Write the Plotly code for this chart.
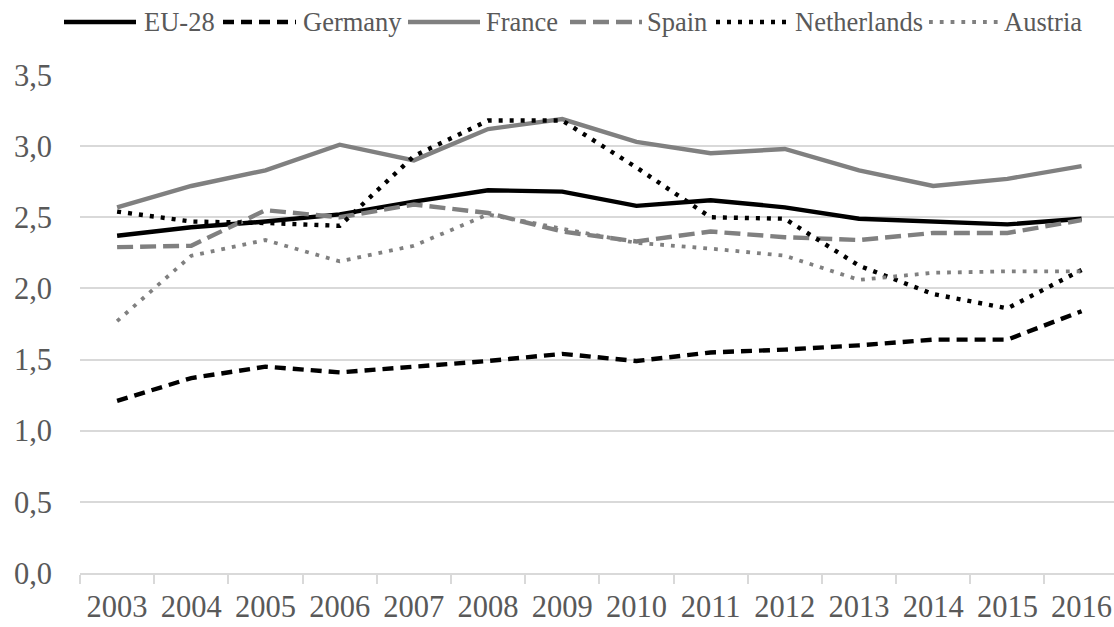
import plotly.graph_objects as go

years = ["2003", "2004", "2005", "2006", "2007", "2008", "2009",
         "2010", "2011", "2012", "2013", "2014", "2015", "2016"]

eu28 = [2.37, 2.43, 2.47, 2.52, 2.61, 2.69, 2.68, 2.58, 2.62, 2.57, 2.49, 2.47, 2.45, 2.49]
germany = [1.21, 1.37, 1.45, 1.41, 1.45, 1.49, 1.54, 1.49, 1.55, 1.57, 1.60, 1.64, 1.64, 1.84]
france = [2.57, 2.72, 2.83, 3.01, 2.90, 3.12, 3.19, 3.03, 2.95, 2.98, 2.83, 2.72, 2.77, 2.86]
spain = [2.29, 2.30, 2.55, 2.50, 2.59, 2.53, 2.40, 2.33, 2.40, 2.36, 2.34, 2.39, 2.39, 2.48]
netherlands = [2.54, 2.47, 2.46, 2.44, 2.93, 3.18, 3.18, 2.85, 2.50, 2.49, 2.16, 1.96, 1.86, 2.13]
austria = [1.77, 2.23, 2.34, 2.19, 2.30, 2.52, 2.42, 2.32, 2.28, 2.23, 2.06, 2.11, 2.12, 2.12]

y_ticks = [0, 0.5, 1.0, 1.5, 2.0, 2.5, 3.0, 3.5]

BLACK = "#000000"
GRAY = "#808080"
TXT = "#595959"
GRID = "#d9d9d9"
FONT = "Liberation Serif"

series = [
    ("EU-28", eu28, BLACK, "solid", 4.4),
    ("Germany", germany, BLACK, "11px,7px", 4.4),
    ("France", france, GRAY, "solid", 4.4),
    ("Spain", spain, GRAY, "16px,7px", 4.4),
    ("Netherlands", netherlands, BLACK, "4px,7px", 4.4),
    ("Austria", austria, GRAY, "3.8px,7px", 3.8),
]

fig = go.Figure()
for name, vals, col, dash, w in series:
    fig.add_trace(go.Scatter(x=years, y=vals, name=name, mode="lines",
                             line=dict(color=col, dash=dash, width=w),
                             showlegend=False))

W, H = 1114, 627
L, R, T, B = 80, 0, 75, 54
pw = W - L - R
ph = H - T - B

def px_x(p):
    return (p - L) / pw

def px_y(p):
    return (H - B - p) / ph

# custom legend (line samples + labels)
legend_pos = [(64, 136, 142), (223, 296, 301), (408, 480, 484),
              (570, 642, 645), (716, 787, 793), (929, 998, 1002)]
ly = px_y(22)
for (name, vals, col, dash, w), (x0, x1, xt) in zip(series, legend_pos):
    fig.add_shape(type="line", xref="paper", yref="paper",
                  x0=px_x(x0), x1=px_x(x1), y0=ly, y1=ly,
                  line=dict(color=col, dash=dash, width=w))
    fig.add_annotation(xref="paper", yref="paper", x=px_x(xt), y=ly,
                       text=name, showarrow=False, xanchor="left", yanchor="middle",
                       font=dict(family=FONT, size=26.5, color=TXT))

fig.update_layout(
    width=W, height=H,
    margin=dict(l=L, r=R, t=T, b=B),
    paper_bgcolor="white", plot_bgcolor="white",
    separators=", ",
    font=dict(family=FONT, size=30, color=TXT),
    xaxis=dict(type="category", categoryorder="array", categoryarray=years,
               range=[-0.5, 13.437], tickson="boundaries",
               ticks="outside", ticklen=9, tickwidth=1.5, tickcolor=GRID,
               showline=True, linecolor=GRID, linewidth=1.5,
               showgrid=False, ticklabelstandoff=6,
               tickfont=dict(family=FONT, size=30.5, color=TXT)),
    yaxis=dict(range=[0, 3.5], tickvals=y_ticks, tickformat=".1f",
               showgrid=True, gridcolor=GRID, gridwidth=1.5,
               zeroline=False, ticks="", ticklabelstandoff=27,
               tickfont=dict(family=FONT, size=30.5, color=TXT)),
)

fig.write_html("out.html", config={"displayModeBar": False},
               post_script="document.body.style.margin='0';document.body.style.overflow='hidden';")
